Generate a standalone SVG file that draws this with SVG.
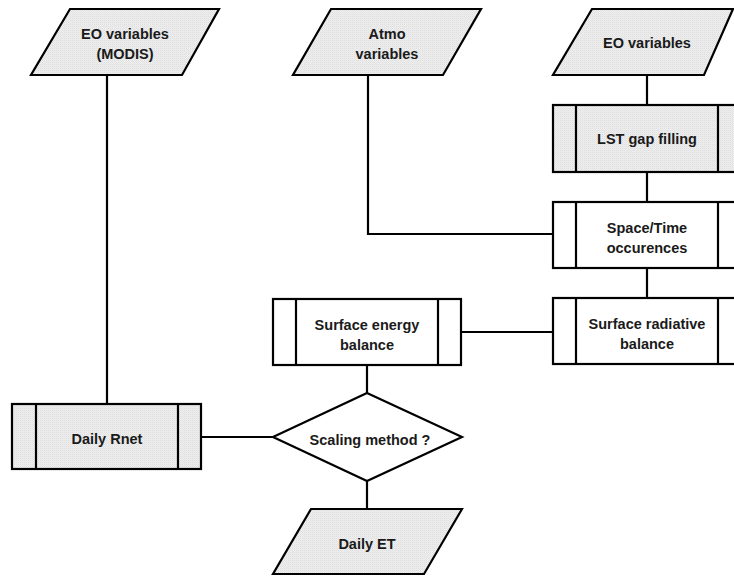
<svg xmlns="http://www.w3.org/2000/svg" width="734" height="576" viewBox="0 0 734 576">
<defs>
<pattern id="dots" width="2" height="2" patternUnits="userSpaceOnUse">
<rect width="2" height="2" fill="#efefef"/>
<rect width="1" height="1" fill="#dedede"/>
<rect x="1" y="1" width="1" height="1" fill="#e6e6e6"/>
</pattern>
</defs>
<style>
.sh{stroke:#000;stroke-width:2.2;stroke-linejoin:miter}
.g{fill:url(#dots)}
.w{fill:#fff}
.ln{stroke:#000;stroke-width:2.2;fill:none}
text{font-family:"Liberation Sans",Arial,sans-serif;font-weight:bold;font-size:14.5px;text-anchor:middle;fill:#1a1a1a}
</style>
<rect width="734" height="576" fill="#fff"/>
<g id="connectors">
<path class="ln" d="M107,75 V404"/>
<path class="ln" d="M368,75 V234 H553"/>
<path class="ln" d="M647,75 V105"/>
<path class="ln" d="M647,172 V202"/>
<path class="ln" d="M647,268 V298"/>
<path class="ln" d="M553,332 H461"/>
<path class="ln" d="M367,365 V393"/>
<path class="ln" d="M201,437 H273"/>
<path class="ln" d="M367,481 V509"/>
</g>
<g id="eo_modis">
<polygon class="sh g" points="70,9 219,9 182,75 31,75"/>
<text x="125" y="39">EO variables</text>
<text x="125" y="59">(MODIS)</text>
</g>
<g id="atmo">
<polygon class="sh g" points="331,9 481,9 443,75 293,75"/>
<text x="387" y="39">Atmo</text>
<text x="387" y="59">variables</text>
</g>
<g id="eo">
<polygon class="sh g" points="592,9 733,9 704,75 553,75"/>
<text x="647" y="48">EO variables</text>
</g>
<g id="lst">
<rect class="sh g" x="553" y="105" width="188" height="67"/>
<path class="ln" d="M576,105 V172 M718,105 V172"/>
<text x="647" y="144">LST gap filling</text>
</g>
<g id="spacetime">
<rect class="sh w" x="553" y="202" width="188" height="66"/>
<path class="ln" d="M576,202 V268 M718,202 V268"/>
<text x="647" y="233">Space/Time</text>
<text x="647" y="253">occurences</text>
</g>
<g id="radiative">
<rect class="sh w" x="553" y="298" width="188" height="66"/>
<path class="ln" d="M576,298 V364 M718,298 V364"/>
<text x="647" y="329">Surface radiative</text>
<text x="647" y="349">balance</text>
</g>
<g id="energy">
<rect class="sh w" x="273" y="299" width="188" height="66"/>
<path class="ln" d="M296,299 V365 M438,299 V365"/>
<text x="367" y="330">Surface energy</text>
<text x="367" y="350">balance</text>
</g>
<g id="rnet">
<rect class="sh g" x="12" y="404" width="189" height="65"/>
<path class="ln" d="M36,404 V469 M178,404 V469"/>
<text x="107" y="444">Daily Rnet</text>
</g>
<g id="scaling">
<polygon class="sh w" points="367,393 462,437 367,481 273,437"/>
<text x="370" y="445">Scaling method ?</text>
</g>
<g id="et">
<polygon class="sh g" points="311,509 462,509 424,574 273,574"/>
<text x="367" y="549">Daily ET</text>
</g>
</svg>
